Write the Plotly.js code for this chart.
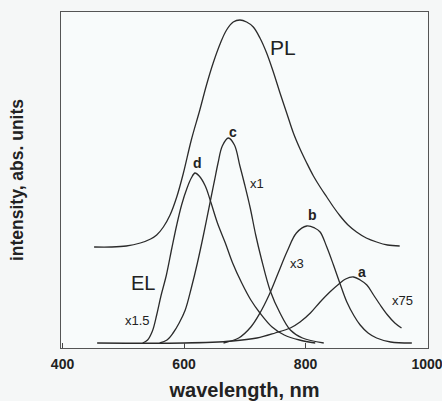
<!DOCTYPE html>
<html>
<head>
<meta charset="utf-8">
<script src="https://cdn.plot.ly/plotly-3.0.1.min.js"></script>
<style>
html,body{margin:0;padding:0;background:#f5f7f7;}
#chart{width:442px;height:401px;}
</style>
</head>
<body>
<div id="chart"></div>
<script>
// PL spectrum
const plX = [452,480,505,528,545,555,566,577,588,599,612,626,637,648,660,670,681,692,703,714,725,736,747,758,769,780,791,802,813,824,835,846,857,870,884,900,917,935,955];
const plY = [96,96,97,100,104,108,116,128,146,170,203,233,258,280,300,313,321,323,321,316,305,290,271,250,230,210,194,180,167,156,146,136,127,118,111,105,101,98,97];
// EL spectra
const aX = [457,600,680,720,750,775,791,808,824,840,855,866,879,890,901,912,923,935,947,958];
const aY = [0,0,2,5,10,15,21,30,41,51,59,64,66,63,58,48,38,28,20,15];
const bX = [665,690,710,725,740,755,770,785,802,815,824,835,846,857,868,880,890,903,917,940,975];
const bY = [0,5,16,30,48,70,92,110,117,115,111,96,78,59,41,27,18,10,5,1,0];
const cX = [560,572,582,592,602,612,622,632,643,650,656,663,673,683,692,700,709,718,727,742,758,775,795,830];
const cY = [0,3,10,20,33,55,80,108,141,162,180,197,205,198,177,158,135,108,85,52,30,13,5,0];
const dX = [532,540,548,555,562,571,580,588,596,605,612,618,625,635,643,655,668,680,695,710,725,745,765,790,816];
const dY = [0,3,12,28,47,68,95,118,138,155,165,170,167,157,143,120,100,80,60,43,30,16,8,3,0];
const xTickVals = [400,600,800,1000];
const xTickText = ['400','600','800','1000'];

const lineStyle = {color:'#2b2b2b', width:1.3, shape:'spline', smoothing:1};
const mk = (x,y)=>({x:x, y:y, type:'scatter', mode:'lines', line:lineStyle, hoverinfo:'skip', showlegend:false});
const data = [mk(plX,plY), mk(aX,aY), mk(bX,bY), mk(cX,cY), mk(dX,dY)];

const fam = 'Liberation Sans, Arial, sans-serif';
const ann = (text,x,y,size,bold)=>({text: bold?'<b>'+text+'</b>':text, x:x, y:y, xref:'x', yref:'y', showarrow:false, font:{family:fam, size:size, color:'#222'}});

const layout = {
  width:442, height:401,
  margin:{l:61, r:14, t:12, b:53},
  paper_bgcolor:'#f5f7f7',
  plot_bgcolor:'#f8fbfb',
  xaxis:{
    range:[397.5,1001.6],
    tickvals:xTickVals, ticktext:xTickText.map(t=>'<b>'+t+'</b>'),
    ticklabeloverflow:'allow',
    ticklabelstandoff:3,
    ticks:'inside', ticklen:5, tickcolor:'#444', tickwidth:1,
    showgrid:false, zeroline:false,
    showline:true, linecolor:'#555', linewidth:1.2, mirror:true,
    tickfont:{family:fam, size:14, color:'#222'},
    title:{text:'<b>wavelength, nm</b>', font:{family:fam, size:20, color:'#222'}, standoff:15}
  },
  yaxis:{
    range:[-5,331],
    showticklabels:false, ticks:'',
    showgrid:false, zeroline:false,
    showline:true, linecolor:'#555', linewidth:1.2, mirror:true,
    title:{text:'<b>intensity, abs. units</b>', font:{family:fam, size:17.5, color:'#222'}, standoff:31}
  },
  annotations:[
    ann('PL',763,296,21,false),
    ann('EL',532,60,20,false),
    ann('x1.5',523,23,13,false),
    ann('x1',720,160,13,false),
    ann('x3',786,80,13,false),
    ann('x75',959,43,13,false),
    ann('d',623,180,14,true),
    ann('c',681,211,14,true),
    ann('b',812,128,14,true),
    ann('a',893,71,14,true)
  ]
};
Plotly.newPlot('chart', data, layout, {displayModeBar:false, staticPlot:true});
</script>
</body>
</html>
